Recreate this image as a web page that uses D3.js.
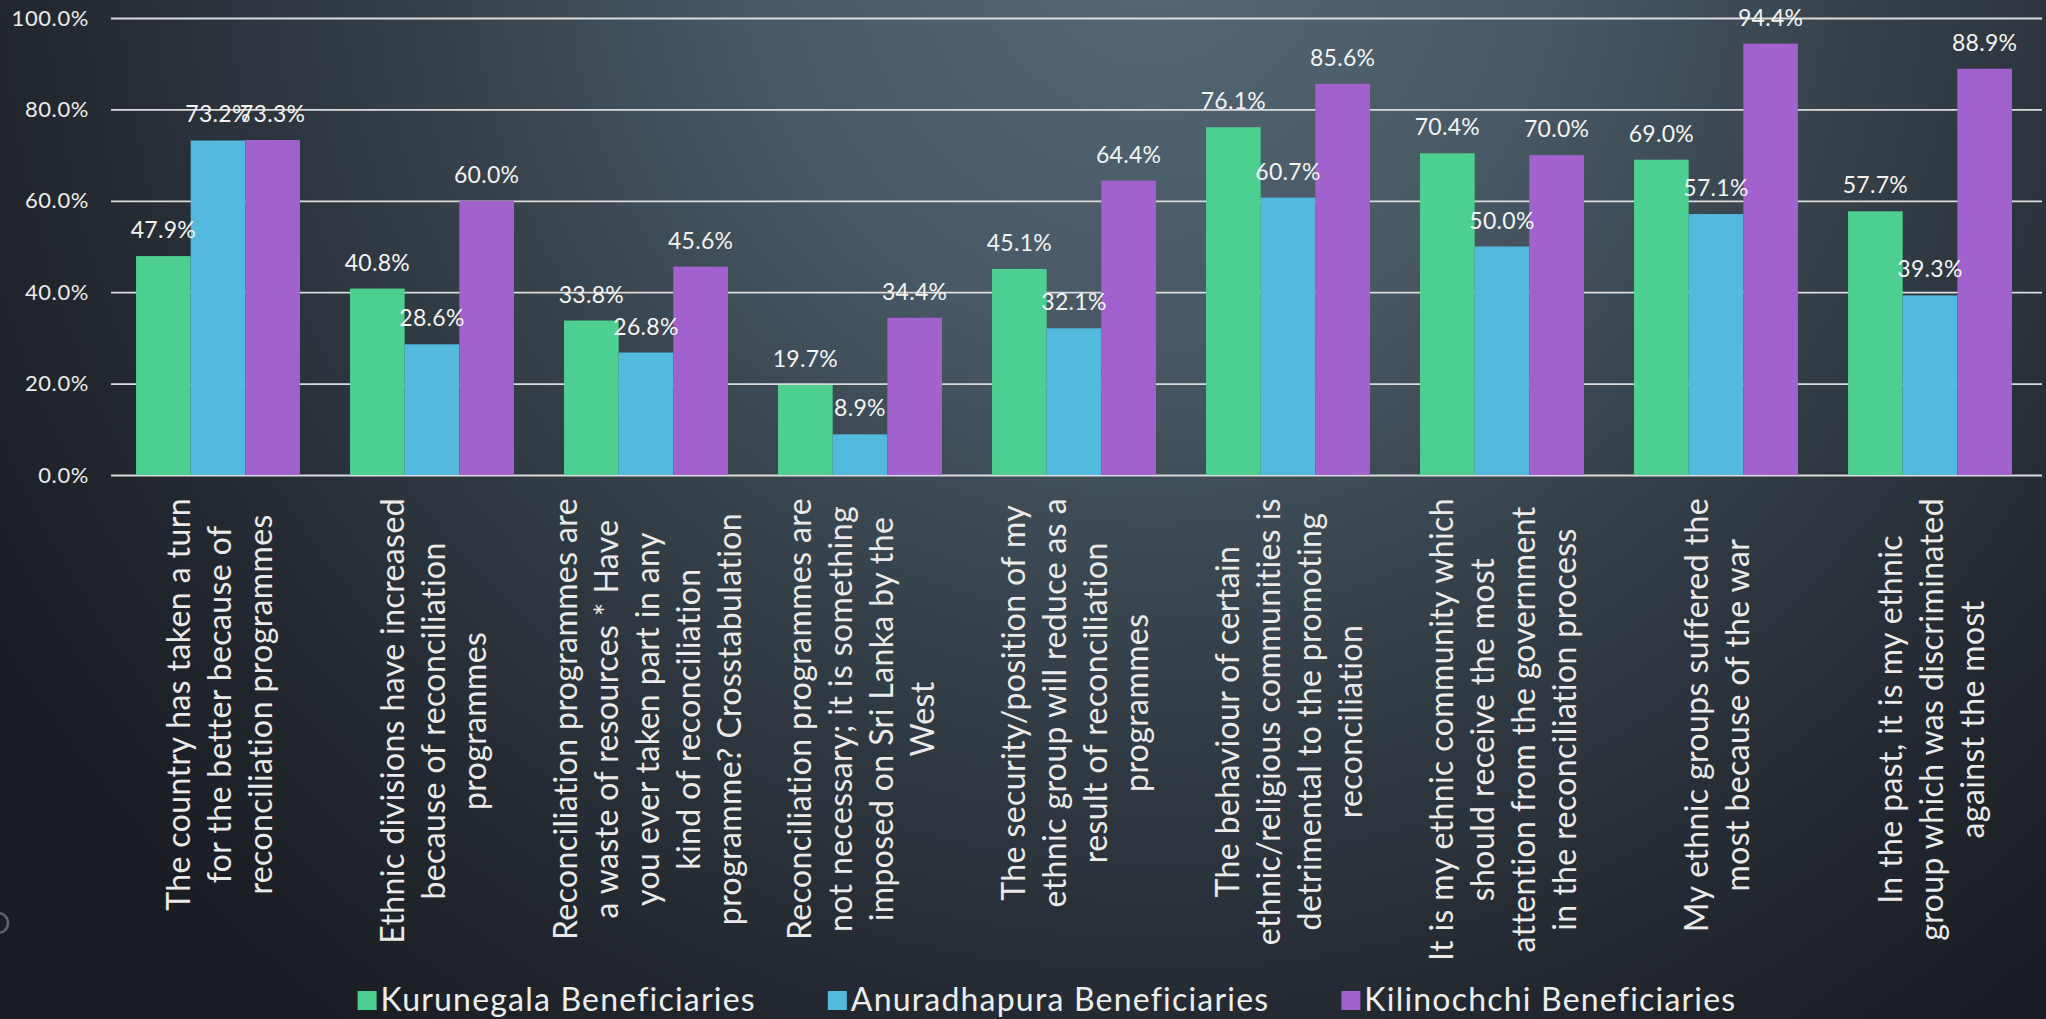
<!DOCTYPE html>
<html>
<head>
<meta charset="utf-8">
<script src="https://cdn.jsdelivr.net/npm/d3@7/dist/d3.min.js"></script>
<style>
  html, body { margin: 0; padding: 0; background: #1b1f25; overflow: hidden; }
  svg { display: block; }
</style>
</head>
<body>
<svg id="chart" width="2046" height="1019"></svg>
<script>
// Survey statements (one entry per category, pre-wrapped into lines)
const categories = [
  ["The country has taken a turn", "for the better because of", "reconciliation programmes"],
  ["Ethnic divisions have increased", "because of reconciliation", "programmes"],
  ["Reconciliation programmes are", "a waste of resources * Have", "you ever taken part in any", "kind of reconciliation", "programme?  Crosstabulation"],
  ["Reconciliation programmes are", "not necessary; it is something", "imposed on Sri Lanka by the", "West"],
  ["The security/position of my", "ethnic group will reduce as a", "result of reconciliation", "programmes"],
  ["The behaviour of certain", "ethnic/religious communities is", "detrimental to the promoting", "reconciliation"],
  ["It is my ethnic community which", "should receive the most", "attention from the government", "in the reconciliation process"],
  ["My ethnic groups suffered the", "most because of the war"],
  ["In the past, it is my ethnic", "group which was discriminated", "against the most"]
];

const seriesNames = ["Kurunegala Beneficiaries", "Anuradhapura Beneficiaries", "Kilinochchi Beneficiaries"];

// Percent agreeing, per district
const kurunegala   = [47.9, 40.8, 33.8, 19.7, 45.1, 76.1, 70.4, 69.0, 57.7];
const anuradhapura = [73.2, 28.6, 26.8,  8.9, 32.1, 60.7, 50.0, 57.1, 39.3];
const kilinochchi  = [73.3, 60.0, 45.6, 34.4, 64.4, 85.6, 70.0, 94.4, 88.9];

const yTicks = [0, 20, 40, 60, 80, 100];
const seriesColors = ["#4ECF92", "#53BADE", "#A162CE"];

const series = [kurunegala, anuradhapura, kilinochchi];
const FONT = "Lato, 'Noto Sans', sans-serif";

const W = 2046, H = 1019;
const svg = d3.select("#chart");

// Slide background: soft radial light from the top centre
const defs = svg.append("defs");
const grad = defs.append("radialGradient")
  .attr("id", "bg").attr("gradientUnits", "userSpaceOnUse")
  .attr("cx", 1150).attr("cy", -60).attr("r", 1350);
[[0, "#566875"], [0.3, "#485864"], [0.55, "#343f48"], [0.8, "#242a32"], [1, "#1a1d23"]]
  .forEach(([o, c]) => grad.append("stop").attr("offset", o).attr("stop-color", c));
svg.append("rect").attr("width", W).attr("height", H).attr("fill", "url(#bg)");

// Decorative ring at the left edge of the slide
svg.append("circle").attr("cx", -2).attr("cy", 923).attr("r", 10)
  .attr("fill", "none").attr("stroke", "#5b666f").attr("stroke-width", 2.5);

const plotLeft = 111, plotRight = 2037, plotTop = 18, plotBottom = 475;

const x = d3.scaleBand().domain(d3.range(categories.length))
  .range([plotLeft, plotRight]).paddingInner(0.234).paddingOuter(0.117);
const xs = d3.scaleBand().domain(d3.range(series.length)).range([0, x.bandwidth()]);
const y = d3.scaleLinear().domain([0, 100]).range([plotBottom, plotTop]);

// Y axis with full-width gridlines
const yAxis = svg.append("g")
  .attr("transform", `translate(${plotLeft},0)`)
  .call(d3.axisLeft(y).tickValues(yTicks)
    .tickFormat(d => d.toFixed(1) + "%")
    .tickSize(-(2042 - plotLeft)).tickPadding(22));
yAxis.select(".domain").remove();
yAxis.selectAll(".tick line").attr("stroke", "#dcdcdc").attr("stroke-width", 1.8);
yAxis.selectAll(".tick text")
  .attr("fill", "#ececec").style("font-family", FONT).style("font-size", "22px")
  .style("letter-spacing", "0.6px");

// Bars
const groups = svg.append("g").selectAll("g")
  .data(categories).join("g")
  .attr("transform", (d, i) => `translate(${x(i)},0)`);

groups.each(function (d, i) {
  const g = d3.select(this);
  series.forEach((vals, s) => {
    g.append("rect")
      .attr("x", xs(s)).attr("width", xs.bandwidth())
      .attr("y", y(vals[i])).attr("height", y(0) - y(vals[i]))
      .attr("fill", seriesColors[s]);
  });
});

// Value labels above each bar
groups.each(function (d, i) {
  const g = d3.select(this);
  series.forEach((vals, s) => {
    g.append("text")
      .attr("x", xs(s) + xs.bandwidth() / 2)
      .attr("y", y(vals[i]) - 18)
      .attr("text-anchor", "middle")
      .attr("fill", "#f4f4f4")
      .style("font-family", FONT).style("font-size", "23px")
      .style("letter-spacing", "0.3px")
      .text(vals[i].toFixed(1) + "%");
  });
});

// Rotated, wrapped category labels (lines centred on the longest one)
const labelTop = 498, lineStep = 41;
categories.forEach((lines, i) => {
  const g = svg.append("g")
    .attr("transform", `translate(${x(i) + x.bandwidth() / 2},${labelTop}) rotate(-90)`);
  const texts = lines.map((line, k) => g.append("text")
    .attr("y", (k - (lines.length - 1) / 2) * lineStep)
    .attr("text-anchor", "middle")
    .attr("dominant-baseline", "central")
    .attr("fill", "#eaeaea")
    .style("font-family", FONT).style("font-size", "32px")
    .style("letter-spacing", "0.4px")
    .text(line));
  const maxLen = d3.max(texts, t => t.node().getComputedTextLength());
  texts.forEach(t => t.attr("x", -maxLen / 2));
});

// Legend
const legend = svg.append("g");
let lx = 0;
seriesNames.forEach((name, s) => {
  const item = legend.append("g").attr("transform", `translate(${lx},0)`);
  item.append("rect").attr("x", 0).attr("y", 991).attr("width", 19).attr("height", 19)
    .attr("fill", seriesColors[s]);
  const t = item.append("text").attr("x", 23).attr("y", 1011)
    .attr("fill", "#eeeeee")
    .style("font-family", FONT).style("font-size", "32px")
    .style("letter-spacing", "1.2px")
    .text(name);
  lx += 23 + t.node().getComputedTextLength() + 72;
});
const legendWidth = lx - 72;
legend.attr("transform", `translate(${1047 - legendWidth / 2},0)`);
</script>
</body>
</html>
